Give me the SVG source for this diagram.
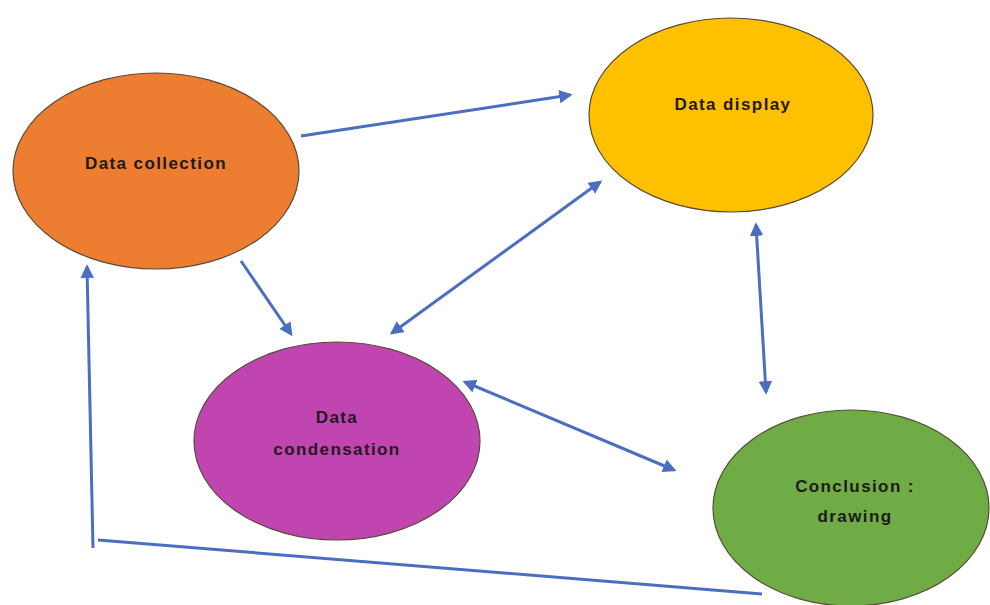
<svg xmlns="http://www.w3.org/2000/svg" width="990" height="605" viewBox="0 0 990 605">
<style>
.node{stroke:#5a4a3a;stroke-width:1.2}
.lbl{font-family:"Liberation Sans",Arial,sans-serif;font-weight:bold;font-size:17px;letter-spacing:1.4px;fill:#1e1a1a;text-anchor:middle}
.conn{stroke:#4a6fc0;stroke-width:3;fill:none}
</style>
<defs>
<marker id="ah" viewBox="0 0 10 10" refX="8" refY="5" markerWidth="4.5" markerHeight="4.5" orient="auto-start-reverse" markerUnits="strokeWidth">
<path d="M0,0 L10,5 L0,10 z" fill="#4a6fc0"/>
</marker>
</defs>
<rect width="990" height="605" fill="#ffffff"/>
<g id="data-collection">
<ellipse class="node" cx="156" cy="171" rx="143" ry="98" fill="#ED7D31"/>
<text class="lbl" x="156" y="169">Data collection</text>
</g>
<g id="data-display">
<ellipse class="node" cx="731" cy="115" rx="142" ry="97" fill="#FFC000"/>
<text class="lbl" x="733" y="110">Data display</text>
</g>
<g id="data-condensation">
<ellipse class="node" cx="337" cy="441" rx="143" ry="99" fill="#C145B1"/>
<text class="lbl" x="337" y="423">Data</text>
<text class="lbl" x="337" y="455">condensation</text>
</g>
<g id="conclusion">
<ellipse class="node" cx="851" cy="508" rx="138" ry="98" fill="#6FAC46"/>
<text class="lbl" x="855" y="492">Conclusion :</text>
<text class="lbl" x="855" y="522">drawing</text>
</g>
<g id="connectors">
<line class="conn" x1="301" y1="136" x2="570" y2="95" marker-end="url(#ah)"/>
<line class="conn" x1="241" y1="261" x2="291" y2="334" marker-end="url(#ah)"/>
<line class="conn" x1="600" y1="182" x2="392" y2="333" marker-start="url(#ah)" marker-end="url(#ah)"/>
<line class="conn" x1="756" y1="225" x2="766" y2="392" marker-start="url(#ah)" marker-end="url(#ah)"/>
<line class="conn" x1="465" y1="382" x2="674" y2="470" marker-start="url(#ah)" marker-end="url(#ah)"/>
<line class="conn" x1="762" y1="594" x2="98" y2="540"/>
<line class="conn" x1="93" y1="548" x2="87" y2="267" marker-end="url(#ah)"/>
</g>
</svg>
